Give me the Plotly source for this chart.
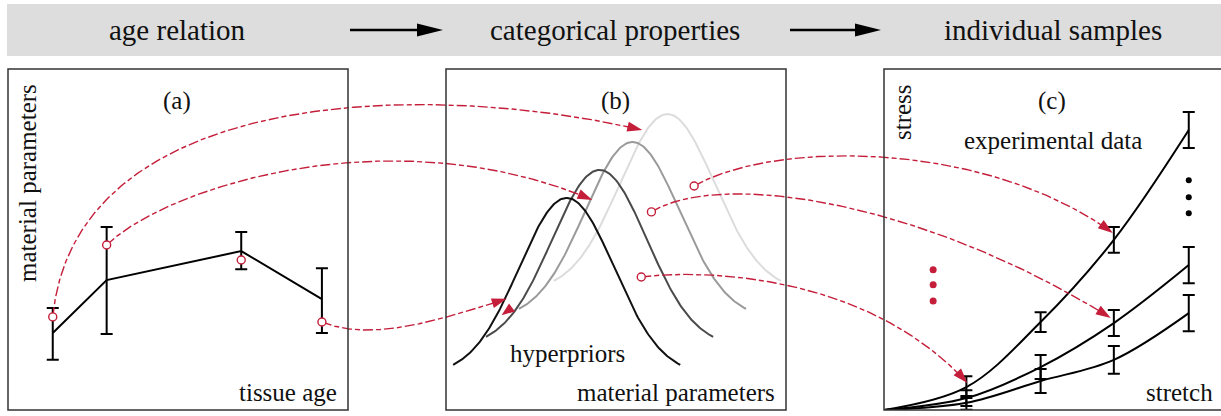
import numpy as np
import plotly.graph_objects as go

W, H = 1221, 416
RED = "#c41e3a"
FONT = "Liberation Serif"

# ---------------- data ----------------
# panel (a): age relation
age = [1.32, 2.91, 6.88, 9.26]
param_mean = [2.26, 3.81, 4.66, 3.25]
param_err_plus = [0.73, 1.56, 0.56, 0.91]
param_err_minus = [0.79, 1.58, 0.53, 0.99]
param_sample = [2.73, 4.84, 4.40, 2.58]

# panel (b): categorical distributions (hyperpriors)
prior_mu = [3.56, 4.53, 5.50, 6.53]
prior_sigma = [1.40, 1.40, 1.40, 1.40]
prior_amp = [5.19, 5.19, 5.19, 5.19]
prior_base = [1.03, 1.85, 2.67, 3.49]
prior_color = ["#111111", "#4a4a4a", "#9a9a9a", "#dcdcdc"]
sample_b_x = [7.32, 6.06, 5.76]
sample_b_y = [6.57, 5.81, 3.90]
arrow_end_b_x = [5.79, 4.32, 1.79]
arrow_end_b_y = [8.21, 6.16, 3.26]

# panel (c): individual samples
stretch = [2.43, 4.62, 6.78, 8.99]
stress_top = [0.67, 2.58, 4.99, 8.21]
stress_top_err = [0.32, 0.29, 0.38, 0.53]
stress_mid = [0.35, 1.26, 2.55, 4.25]
stress_mid_err = [0.23, 0.35, 0.38, 0.53]
stress_low = [0.21, 0.85, 1.47, 2.84]
stress_low_err = [0.20, 0.35, 0.41, 0.53]
arrow_end_c_x = [6.75, 6.69, 2.46]
arrow_end_c_y = [5.19, 2.70, 0.79]

# ---------------- layout helpers ----------------
PANELS = {
    "a": dict(box=(8, 69, 348, 410), ax="x", ay="y"),
    "b": dict(box=(446, 69, 786, 410), ax="x2", ay="y2"),
    "c": dict(box=(884, 69, 1222, 410), ax="x3", ay="y3"),
}
SX, SY = 33.9, 34.1


def to_px(p, x, y):
    l, t, r, b = PANELS[p]["box"]
    return np.array([l + x * SX, b - y * SY])


fig = go.Figure()

# panel (a)
fig.add_trace(go.Scatter(
    x=age, y=param_mean, mode="lines", xaxis="x", yaxis="y",
    line=dict(color="black", width=2),
    error_y=dict(type="data", array=param_err_plus, arrayminus=param_err_minus,
                 color="black", thickness=2, width=6),
    hoverinfo="skip", showlegend=False))

# panel (b): gaussians, light first
for k in [3, 2, 1, 0]:
    xs = np.linspace(prior_mu[k] - 3.35, prior_mu[k] + 3.35, 200)
    ys = prior_base[k] + prior_amp[k] * np.exp(-(xs - prior_mu[k]) ** 2 / (2 * prior_sigma[k] ** 2))
    fig.add_trace(go.Scatter(x=xs, y=ys, mode="lines", xaxis="x2", yaxis="y2",
                             line=dict(color=prior_color[k], width=2),
                             hoverinfo="skip", showlegend=False))

# panel (c): stress-stretch curves with error bars
for vals, err in [(stress_top, stress_top_err), (stress_mid, stress_mid_err), (stress_low, stress_low_err)]:
    fig.add_trace(go.Scatter(x=[0] + stretch, y=[0] + vals, mode="lines", xaxis="x3", yaxis="y3",
                             line=dict(color="black", width=2, shape="spline", smoothing=1.0),
                             hoverinfo="skip", showlegend=False))
    fig.add_trace(go.Scatter(x=stretch, y=vals, mode="markers", xaxis="x3", yaxis="y3",
                             marker=dict(size=1, color="black", opacity=0),
                             error_y=dict(type="data", array=err, color="black", thickness=2, width=6),
                             hoverinfo="skip", showlegend=False))

# dots
fig.add_trace(go.Scatter(x=[8.99] * 3, y=[6.74, 6.24, 5.77], mode="markers", xaxis="x3", yaxis="y3",
                         marker=dict(size=6, color="black"), hoverinfo="skip", showlegend=False))
fig.add_trace(go.Scatter(x=[1.45] * 3, y=[4.11, 3.67, 3.20], mode="markers", xaxis="x3", yaxis="y3",
                         marker=dict(size=7, color=RED), hoverinfo="skip", showlegend=False))

# ---------------- arrows (global pixel overlay x4/y4) ----------------
arrows = [
    (to_px("a", age[0], param_sample[0]), to_px("b", arrow_end_b_x[0], arrow_end_b_y[0]), (22, -227), (-223, -52)),
    (to_px("a", age[1], param_sample[1]), to_px("b", arrow_end_b_x[1], arrow_end_b_y[1]), (60, -58), (-200, -85)),
    (to_px("a", age[3], param_sample[3]), to_px("b", arrow_end_b_x[2], arrow_end_b_y[2]), (50, 20), (-70, 22)),
    (to_px("b", sample_b_x[0], sample_b_y[0]), to_px("c", arrow_end_c_x[0], arrow_end_c_y[0]), (80, -46), (-127, -93)),
    (to_px("b", sample_b_x[1], sample_b_y[1]), to_px("c", arrow_end_c_x[1], arrow_end_c_y[1]), (68, -42), (-190, -118)),
    (to_px("b", sample_b_x[2], sample_b_y[2]), to_px("c", arrow_end_c_x[2], arrow_end_c_y[2]), (60, -8), (-100, -110)),
]

shapes = []
HEAD_L, HEAD_W = 15, 5


def head(tip, u, L=HEAD_L, w=HEAD_W, color=RED):
    n = np.array([-u[1], u[0]])
    base = tip - L * u
    p1 = base + w * n
    p2 = base - w * n
    return dict(type="path", xref="x4", yref="y4",
                path=f"M{tip[0]:.1f},{tip[1]:.1f} L{p1[0]:.1f},{p1[1]:.1f} L{p2[0]:.1f},{p2[1]:.1f} Z",
                fillcolor=color, line=dict(width=0))


for p0, p2, d1, d2 in arrows:
    c1 = p0 + np.array(d1)
    c2 = p2 + np.array(d2)
    t = np.linspace(0, 1, 300)[:, None]
    pts = (1 - t) ** 3 * p0 + 3 * (1 - t) ** 2 * t * c1 + 3 * (1 - t) * t ** 2 * c2 + t ** 3 * p2
    dist = np.hypot(*(pts - p2).T)
    keep = dist > HEAD_L - 3
    fig.add_trace(go.Scatter(x=pts[keep, 0], y=pts[keep, 1], mode="lines", xaxis="x4", yaxis="y4",
                             line=dict(color=RED, width=1.4, dash="10px,3px,5px,3px"),
                             hoverinfo="skip", showlegend=False))
    u = (p2 - c2) / np.hypot(*(p2 - c2))
    shapes.append(head(p2, u))

# extra small arrowhead on hyperprior tail
tip = to_px("b", 1.64, 2.78)
shapes.append(head(tip, np.array([-0.8, 0.6]), L=13, w=5))

# sample circles (drawn on top)
circ_pts = [to_px("a", a, s) for a, s in zip(age, param_sample)] + \
           [to_px("b", x, y) for x, y in zip(sample_b_x, sample_b_y)]
fig.add_trace(go.Scatter(x=[p[0] for p in circ_pts], y=[p[1] for p in circ_pts], mode="markers",
                         xaxis="x4", yaxis="y4",
                         marker=dict(size=8, color="white", line=dict(color=RED, width=1.4)),
                         hoverinfo="skip", showlegend=False))

# header bar
shapes.insert(0, dict(type="rect", xref="x4", yref="y4", x0=7, y0=4, x1=1225, y1=56,
                      fillcolor="#dddddd", line=dict(width=0), layer="below"))
for x0, x1 in [(350, 443), (790, 881)]:
    shapes.append(dict(type="line", xref="x4", yref="y4", x0=x0, y0=30, x1=x1 - 20, y1=30,
                       line=dict(color="black", width=2.5)))
    shapes.append(head(np.array([x1, 30.0]), np.array([1.0, 0.0]), L=26, w=6.5, color="black"))

# panel boxes
for p in PANELS.values():
    l, t, r, b = p["box"]
    shapes.append(dict(type="rect", xref="x4", yref="y4", x0=l, y0=t, x1=r, y1=b,
                       line=dict(color="#333333", width=1.5), fillcolor="rgba(0,0,0,0)"))

# ---------------- texts ----------------
ann = []


def txt(x, y, s, size=25, xanchor="center", angle=0):
    ann.append(dict(x=x, y=y, xref="x4", yref="y4", text=s, showarrow=False, textangle=angle,
                    xanchor=xanchor, yanchor="middle", font=dict(family=FONT, size=size, color="#111111")))


txt(177, 30, "age relation", 29)
txt(615, 30, "categorical properties", 29)
txt(1053, 30, "individual samples", 29)
txt(177, 101, "(a)")
txt(615, 101, "(b)")
txt(1052, 101, "(c)")
txt(27, 183, "material parameters", angle=-90)
txt(339, 392, "tissue age", xanchor="right")
txt(567, 353, "hyperpriors")
txt(777, 392, "material parameters", xanchor="right")
txt(902, 112, "stress", angle=-90)
txt(1053, 140, "experimental data")
txt(1215, 392, "stretch", xanchor="right")

# ---------------- axes ----------------
layout = dict(width=W, height=H, margin=dict(l=0, r=0, t=0, b=0),
              paper_bgcolor="white", plot_bgcolor="rgba(0,0,0,0)",
              shapes=shapes, annotations=ann, showlegend=False)
for key, p in PANELS.items():
    l, t, r, b = p["box"]
    rr = min(r, W)
    xa = "xaxis" if p["ax"] == "x" else "xaxis" + p["ax"][1:]
    ya = "yaxis" if p["ay"] == "y" else "yaxis" + p["ay"][1:]
    layout[xa] = dict(domain=[l / W, rr / W], range=[0, (rr - l) / SX], visible=False,
                      fixedrange=True, anchor=p["ay"])
    layout[ya] = dict(domain=[(H - b) / H, (H - t) / H], range=[0, (b - t) / SY], visible=False,
                      fixedrange=True, anchor=p["ax"])
layout["xaxis4"] = dict(domain=[0, 1], range=[0, W], visible=False, anchor="y4")
layout["yaxis4"] = dict(domain=[0, 1], range=[H, 0], visible=False, anchor="x4")
fig.update_layout(**layout)

fig.write_html("out.html")
